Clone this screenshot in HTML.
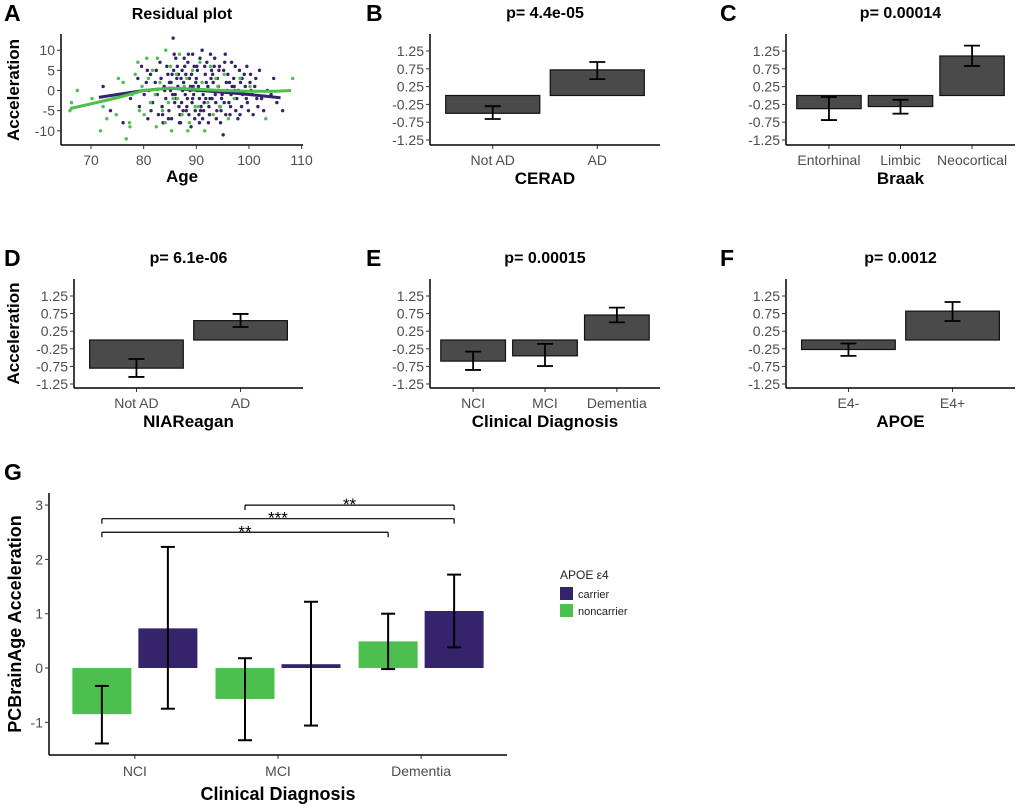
<!DOCTYPE html>
<html><head><meta charset="utf-8"><style>
body{margin:0;background:#fff;}
svg{display:block;font-family:"Liberation Sans",sans-serif;}
.tk{font-size:14px;fill:#4d4d4d;}
.ttl{font-size:16px;font-weight:bold;fill:#000;}
.ax{font-size:17px;font-weight:bold;fill:#000;}
.let{font-size:23px;font-weight:bold;fill:#000;}
</style></head><body>
<svg id="fig" width="1020" height="808" viewBox="0 0 1020 808"></svg>
<script>
// ---- Panel A data ----
const aPurpleAge=[72.3,73.7,76.1,77.5,78.9,79.2,79.6,80.1,80.5,80.8,81.3,81.7,81.0,82.4,82.8,82.2,82.6,83.1,83.5,83.9,83.3,83.7,84.2,84.6,84.0,84.4,84.8,85.6,85.2,85.9,85.3,85.7,85.1,85.5,86.3,86.7,86.1,86.5,86.9,86.2,86.6,87.4,87.8,87.2,87.6,87.0,87.3,87.9,88.5,88.1,88.7,88.3,88.9,88.4,88.2,88.8,89.3,89.7,89.1,89.5,89.9,89.2,89.6,89.0,90.4,90.8,90.2,90.6,90.0,90.3,90.7,90.5,91.1,91.5,91.9,91.3,91.7,91.2,91.6,91.0,92.4,92.8,92.2,92.6,92.0,92.5,92.9,93.3,93.7,93.1,93.5,93.9,93.2,93.6,94.4,94.8,94.2,94.6,94.0,94.5,95.1,95.5,95.9,95.3,95.7,95.2,96.6,96.0,96.4,96.8,96.2,96.7,97.3,97.7,97.1,97.5,97.9,98.4,98.8,98.2,98.6,98.0,99.3,99.7,99.1,99.5,100.4,100.8,100.2,100.6,101.3,101.7,101.1,102.4,102.0,102.8,103.5,104.2,104.7,105.3,106.4,80.7,81.4,84.7,86.4,87.1,88.6,89.4,90.9,91.4,92.3,93.4,94.3,95.6,96.3,97.4,98.3,99.6,85.8,86.8,87.5,89.8,90.1,92.7,93.8,94.7,95.4,83.6,84.9,85.4,86.0,87.7,88.0,89.3,90.6,91.8,92.1,93.0,94.9,96.5,97.2,98.7,99.9,100.3,101.5];
const aPurpleVal=[1,-5,-8,-2,3,-4,6,-1,2,-7,4,-3,0,5,-6,2,-1,7,-4,1,3,-8,-2,4,0,6,-5,13,2,-3,-7,5,0,-1,3,-4,8,1,-6,-2,4,0,6,-3,2,-8,5,-1,9,-5,3,-2,1,7,-4,0,9,-7,4,-1,2,-3,6,-9,1,-5,5,-2,3,0,8,-6,10,-3,2,-1,4,-7,6,0,-4,3,1,-2,7,-6,5,0,-3,4,8,-5,2,-1,6,-2,1,-8,3,-4,-11,9,0,-3,2,5,-1,4,-6,1,-3,7,0,-2,3,-5,-7,2,-1,5,-4,0,1,-3,4,-2,0,-6,2,-1,3,-4,1,-2,5,-5,0,-1,3,-3,-5,5,-5,-7,6,3,-6,1,-4,-5,-8,6,5,-6,2,6,-6,6,9,-8,-5,-5,6,9,-7,-5,7,-6,2,4,-1,8,4,-2,-8,-2,0,-2,-1,-4,1,3,-5,4,-2];
const aGreenAge=[66.0,66.3,67.4,70.2,71.8,72.3,73.0,74.1,75.2,74.8,76.7,76.1,77.3,77.8,78.4,78.9,79.2,79.7,80.1,80.6,80.9,81.3,81.7,82.2,82.6,83.1,83.6,84.2,84.7,85.1,85.6,86.2,86.8,87.3,87.7,88.2,88.7,89.3,89.8,90.2,90.7,91.6,91.1,92.2,92.7,93.2,93.7,94.1,94.6,95.3,96.1,97.2,98.3,100.2,103.2,108.3,82.4,77.4,85.3,88.4,84.1,86.4,90.4];
const aGreenVal=[-5,-3,0,-2,-10,-4,-7,-2,3,-6,-12,2,-8,-1,4,7,-5,1,-6,8,3,-3,5,-1,8,2,-5,10,-3,6,-2,4,9,-6,1,3,-8,5,-4,0,7,-10,2,-3,6,-6,3,1,-4,4,-7,-2,3,1,-7,3,-9,-9,-10,-10,-8,-2,-4];
const aGreenFitAge=[66,70,75,80,85,90,95,100,105,108];
const aGreenFitVal=[-4.5,-3.3,-1.8,0,0.6,0.3,0,-0.2,-0.2,0];
const aPurpleFitAge=[71.5,75,80,85,90,95,100,106];
const aPurpleFitVal=[-1.7,-1,0,0.6,0.1,-0.4,-1,-1.8];
const aXTicks=[70,80,90,100,110];
const aYTicks=[10,5,0,-5,-10];
// ---- Bar panels ----
const barTicks=[1.25,0.75,0.25,-0.25,-0.75,-1.25];
const bCats=["Not AD","AD"]; const bVals=[-0.5,0.72]; const bLo=[-0.66,0.46]; const bHi=[-0.3,0.94];
const cCats=["Entorhinal","Limbic","Neocortical"]; const cVals=[-0.37,-0.31,1.11]; const cLo=[-0.69,-0.51,0.83]; const cHi=[-0.04,-0.12,1.4];
const dCats=["Not AD","AD"]; const dVals=[-0.8,0.55]; const dLo=[-1.05,0.37]; const dHi=[-0.54,0.74];
const eCats=["NCI","MCI","Dementia"]; const eVals=[-0.6,-0.45,0.71]; const eLo=[-0.85,-0.74,0.5]; const eHi=[-0.33,-0.11,0.92];
const fCats=["E4-","E4+"]; const fVals=[-0.27,0.82]; const fLo=[-0.45,0.54]; const fHi=[-0.1,1.08];
// ---- Panel G ----
const gCats=["NCI","MCI","Dementia"];
const gNonVals=[-0.85,-0.57,0.49]; const gNonLo=[-1.39,-1.33,-0.02]; const gNonHi=[-0.33,0.18,1.0];
const gCarVals=[0.73,0.07,1.05]; const gCarLo=[-0.75,-1.06,0.38]; const gCarHi=[2.23,1.22,1.72];
const gTicks=[3,2,1,0,-1];
const gSig=["**","***","**"];

const NS="http://www.w3.org/2000/svg";
const svg=document.getElementById('fig');
function el(tag,attrs,parent,text){const e=document.createElementNS(NS,tag);for(const k in attrs)e.setAttribute(k,attrs[k]);if(text!==undefined)e.textContent=text;(parent||svg).appendChild(e);return e;}
const PURPLE="#35236b", GREEN="#4dbf4e";

function txt(x,y,s,cls,anchor,name,rot){const t=el('text',{x:x,y:y,class:cls,'text-anchor':anchor||'middle'},svg,s);
if(rot)t.setAttribute('transform','rotate(-90 '+x+' '+y+')');

return t;}
function line(x1,y1,x2,y2,w,c,name){const l=el('line',{x1:x1,y1:y1,x2:x2,y2:y2,stroke:c||'#000','stroke-width':w||1});

return l;}

// Panel A
(function(){
const L=61,R=303,T=34,B=145;
const sx=v=>91+(v-70)*5.265, sy=v=>90.5-v*4.03;
txt(4,21,'A','let','start','panel-label-a');
txt(182,19,'Residual plot','ttl','middle','panel-a-title');
for(let i=0;i<aPurpleAge.length;i++){const c=el('circle',{cx:sx(aPurpleAge[i]),cy:sy(aPurpleVal[i]),r:1.7,fill:PURPLE});

}
for(let i=0;i<aGreenAge.length;i++){const c=el('circle',{cx:sx(aGreenAge[i]),cy:sy(aGreenVal[i]),r:1.7,fill:GREEN});

}
let p=el('polyline',{points:aPurpleFitAge.map((a,i)=>sx(a)+','+sy(aPurpleFitVal[i])).join(' '),fill:'none',stroke:PURPLE,'stroke-width':3});


p=el('polyline',{points:aGreenFitAge.map((a,i)=>sx(a)+','+sy(aGreenFitVal[i])).join(' '),fill:'none',stroke:GREEN,'stroke-width':3});


line(L,T,L,B,1.5,'#000','y-axis-line');line(L,B,R,B,1.5,'#000','x-axis-line');
aXTicks.forEach(v=>{line(sx(v),B,sx(v),B+4,1,'#333','x-tick');txt(sx(v),B+20,String(v),'tk','middle','x-tick-label');});
aYTicks.forEach(v=>{line(L-4,sy(v),L,sy(v),1,'#333','y-tick');txt(L-6,sy(v)+5,String(v),'tk','end','y-tick-label');});
txt(182,182,'Age','ax','middle','x-axis-title');
txt(19,90,'Acceleration','ax','middle','y-axis-title',true);
})();

function barPanel(o){
const {L,R,T,B,y0,k,cats,vals,lo,hi,letter,lx,title,xt,yt}=o;
const n=cats.length, unit=(R-L)/(n+0.2);
const cx=i=>L+(0.6+i)*unit, sy=v=>y0-v*k, bw=0.9*unit;
txt(lx,T-13,letter,'let','start','panel-label-'+letter.toLowerCase());
txt((L+R)/2,T-16,title,'ttl','middle','panel-'+letter.toLowerCase()+'-title');
cats.forEach((c,i)=>{
 const r=el('rect',{x:cx(i)-bw/2,y:Math.min(sy(0),sy(vals[i])),width:bw,height:Math.abs(sy(vals[i])-sy(0)),fill:'#4a4a4a',stroke:'#111','stroke-width':1.2});
 
 
 line(cx(i),sy(lo[i]),cx(i),sy(hi[i]),1.8,'#000','error-bar');
 line(cx(i)-8,sy(lo[i]),cx(i)+8,sy(lo[i]),1.8,'#000','error-cap');
 line(cx(i)-8,sy(hi[i]),cx(i)+8,sy(hi[i]),1.8,'#000','error-cap');
 line(cx(i),B,cx(i),B+4,1,'#333','x-tick');
 txt(cx(i),B+20,c,'tk','middle','x-tick-label');
});
line(L,T,L,B,1.5,'#000','y-axis-line');line(L,B,R,B,1.5,'#000','x-axis-line');
barTicks.forEach(v=>{line(L-4,sy(v),L,sy(v),1,'#333','y-tick');txt(L-6,sy(v)+5,v.toFixed(2),'tk','end','y-tick-label');});
txt((L+R)/2,B+39,xt,'ax','middle','x-axis-title');
if(yt)txt(19,(T+B)/2,yt,'ax','middle','y-axis-title',true);
}
barPanel({L:430,R:660,T:34,B:145,y0:95.5,k:35.6,cats:bCats,vals:bVals,lo:bLo,hi:bHi,letter:'B',lx:366,title:'p= 4.4e-05',xt:'CERAD'});
barPanel({L:786,R:1015,T:34,B:145,y0:95.5,k:35.6,cats:cCats,vals:cVals,lo:cLo,hi:cHi,letter:'C',lx:720,title:'p= 0.00014',xt:'Braak'});
barPanel({L:74,R:303,T:279,B:388,y0:340,k:35.2,cats:dCats,vals:dVals,lo:dLo,hi:dHi,letter:'D',lx:4,title:'p= 6.1e-06',xt:'NIAReagan',yt:'Acceleration'});
barPanel({L:430,R:660,T:279,B:388,y0:340,k:35.2,cats:eCats,vals:eVals,lo:eLo,hi:eHi,letter:'E',lx:366,title:'p= 0.00015',xt:'Clinical Diagnosis'});
barPanel({L:786,R:1015,T:279,B:388,y0:340,k:35.2,cats:fCats,vals:fVals,lo:fLo,hi:fHi,letter:'F',lx:720,title:'p= 0.0012',xt:'APOE'});

// Panel G
(function(){
const L=49,R=507,T=493,B=755;
const sy=v=>668-v*54.3;
const unit=(R-L)/3.2, cx=i=>L+(0.6+i)*unit, bw=59, gap=3.5;
txt(4,480,'G','let','start','panel-label-g');
gCats.forEach((c,i)=>{
 const xg=cx(i)-gap-bw/2, xp=cx(i)+gap+bw/2;
 let r=el('rect',{x:xg-bw/2,y:Math.min(sy(0),sy(gNonVals[i])),width:bw,height:Math.abs(sy(gNonVals[i])-sy(0)),fill:GREEN});
 
 
 r=el('rect',{x:xp-bw/2,y:Math.min(sy(0),sy(gCarVals[i])),width:bw,height:Math.abs(sy(gCarVals[i])-sy(0)),fill:PURPLE});
 
 
 [[xg,gNonLo[i],gNonHi[i]],[xp,gCarLo[i],gCarHi[i]]].forEach(([x,lo,hi])=>{
  line(x,sy(lo),x,sy(hi),2,'#000','error-bar');
  line(x-7,sy(lo),x+7,sy(lo),2,'#000','error-cap');
  line(x-7,sy(hi),x+7,sy(hi),2,'#000','error-cap');
 });
 line(cx(i),B,cx(i),B+4,1,'#333','x-tick');
 txt(cx(i),B+21,c,'tk','middle','x-tick-label');
});
const gx=(i,grp)=>cx(i)+(grp?gap+bw/2:-gap-bw/2);
const br=[[gx(0,0),gx(2,0),2.5],[gx(0,0),gx(2,1),2.75],[gx(1,0),gx(2,1),3.0]];
br.forEach(([x1,x2,v],j)=>{const y=sy(v);
 line(x1,y,x2,y,1.2,'#000','significance-bracket');
 line(x1,y,x1,y+5,1.2,'#000','significance-bracket');
 line(x2,y,x2,y+5,1.2,'#000','significance-bracket');
 txt((x1+x2)/2,y+5,gSig[j],'tk','middle','significance-stars').setAttribute('style','fill:#000;font-size:17px');
});
line(L,T,L,B,1.5,'#000','y-axis-line');line(L,B,R,B,1.5,'#000','x-axis-line');
gTicks.forEach(v=>{line(L-4,sy(v),L,sy(v),1,'#333','y-tick');txt(L-6,sy(v)+5,String(v),'tk','end','y-tick-label');});
txt(278,800,'Clinical Diagnosis','ax','middle','x-axis-title').setAttribute('style','font-size:18px');
txt(21,624,'PCBrainAge Acceleration','ax','middle','y-axis-title',true).setAttribute('style','font-size:18px');
// legend
txt(560,579,'APOE ε4','tk','start','legend-title').setAttribute('style','font-size:12px;fill:#222');
let r=el('rect',{x:560,y:587,width:13,height:13,fill:PURPLE});


txt(578,598,'carrier','tk','start','legend-entry-carrier').setAttribute('style','font-size:11px;fill:#222');
r=el('rect',{x:560,y:604,width:13,height:13,fill:GREEN});


txt(578,615,'noncarrier','tk','start','legend-entry-noncarrier').setAttribute('style','font-size:11px;fill:#222');
})();
</script>
</body></html>
